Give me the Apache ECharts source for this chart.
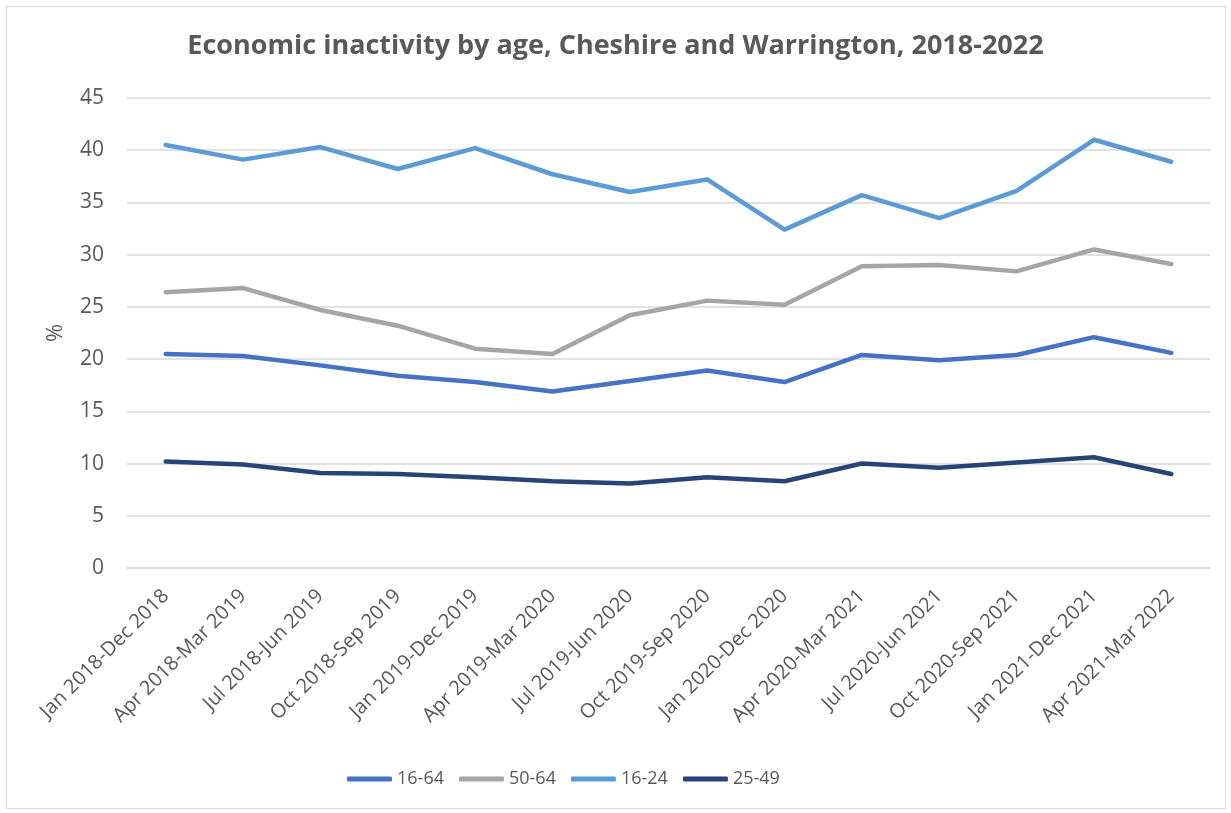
<!DOCTYPE html>
<html>
<head>
<meta charset="utf-8">
<script src="https://cdn.jsdelivr.net/npm/echarts@6/dist/echarts.min.js"></script>
<style>
  html, body { margin: 0; padding: 0; background: #fff; }
  #main { width: 1231px; height: 813px; }
  #frame { position: absolute; left: 6px; top: 6px; width: 1218px; height: 801px; border: 1px solid #d9d9d9; pointer-events: none; }
</style>
</head>
<body>
<div id="main"></div>
<div id="frame"></div>
<script>
var categories = [
  'Jan 2018-Dec 2018', 'Apr 2018-Mar 2019', 'Jul 2018-Jun 2019', 'Oct 2018-Sep 2019',
  'Jan 2019-Dec 2019', 'Apr 2019-Mar 2020', 'Jul 2019-Jun 2020', 'Oct 2019-Sep 2020',
  'Jan 2020-Dec 2020', 'Apr 2020-Mar 2021', 'Jul 2020-Jun 2021', 'Oct 2020-Sep 2021',
  'Jan 2021-Dec 2021', 'Apr 2021-Mar 2022'
];
var age16to64 = [20.5, 20.3, 19.4, 18.4, 17.8, 16.9, 17.9, 18.9, 17.8, 20.4, 19.9, 20.4, 22.1, 20.6];
var age50to64 = [26.4, 26.8, 24.7, 23.2, 21.0, 20.5, 24.2, 25.6, 25.2, 28.9, 29.0, 28.4, 30.5, 29.1];
var age16to24 = [40.5, 39.1, 40.3, 38.2, 40.2, 37.7, 36.0, 37.2, 32.4, 35.7, 33.5, 36.1, 41.0, 38.9];
var age25to49 = [10.2, 9.9, 9.1, 9.0, 8.7, 8.3, 8.1, 8.7, 8.3, 10.0, 9.6, 10.1, 10.6, 9.0];

var names = ['16-64', '50-64', '16-24', '25-49'];
var colors = ['#4472C4', '#A5A5A5', '#5B9BD5', '#264478'];
var values = [age16to64, age50to64, age16to24, age25to49];

var font = 'Open Sans';
var chart = echarts.init(document.getElementById('main'), null, { renderer: 'canvas' });

var series = [];
for (let i = 0; i < names.length; i++) {
  series.push({
    type: 'line',
    name: names[i],
    data: values[i],
    symbol: 'none',
    lineStyle: { width: 4.5, color: colors[i], cap: 'round', join: 'round' },
    itemStyle: { color: colors[i] },
    animation: false
  });
}

var option = {
  backgroundColor: '#fff',
  title: {
    text: 'Economic inactivity by age, Cheshire and Warrington, 2018-2022',
    left: 'center',
    top: 28,
    textStyle: { fontFamily: font, fontWeight: 'bold', fontSize: 27, color: '#595959' }
  },
  legend: {
    data: names,
    bottom: 20,
    left: 342,
    itemWidth: 45,
    itemHeight: 5,
    itemGap: 15,
    icon: 'roundRect',
    textStyle: { fontFamily: font, fontSize: 18, color: '#595959' }
  },
  grid: { left: 127, right: 21, top: 98, bottom: 245, containLabel: false },
  xAxis: {
    type: 'category',
    data: categories,
    boundaryGap: true,
    axisLine: { show: true, lineStyle: { color: '#d9d9d9', width: 1.5 } },
    axisTick: { show: false },
    axisLabel: { rotate: 45, interval: 0, margin: 25, fontFamily: font, fontSize: 20, color: '#595959' }
  },
  yAxis: {
    type: 'value',
    min: 0,
    max: 45,
    interval: 5,
    name: '%',
    nameLocation: 'middle',
    nameGap: 60,
    nameRotate: 90,
    nameTextStyle: { fontFamily: font, fontSize: 22, color: '#595959' },
    axisLine: { show: false },
    axisTick: { show: false },
    axisLabel: { margin: 23, fontFamily: font, fontSize: 21, color: '#595959' },
    splitLine: { lineStyle: { color: '#d9d9d9', width: 1.5 } }
  },
  series: series
};
chart.setOption(option);
</script>
</body>
</html>
